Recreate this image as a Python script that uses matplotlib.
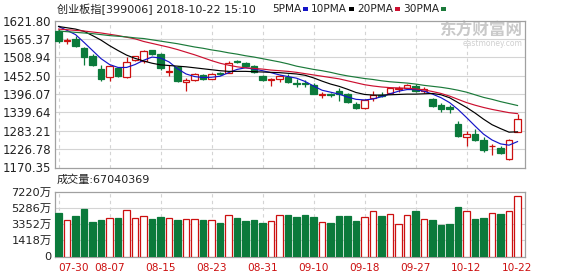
import matplotlib
matplotlib.use('Agg')
import matplotlib.pyplot as plt
from matplotlib.patches import Rectangle
import numpy as np

plt.rcParams['font.family'] = ['DejaVu Sans', 'Noto Sans CJK SC']

# ---------------- data ----------------
dates = ['07-30', '07-31', '08-01', '08-02', '08-03', '08-06', '08-07', '08-08', '08-09', '08-10',
         '08-13', '08-14', '08-15', '08-16', '08-17', '08-20', '08-21', '08-22', '08-23', '08-24',
         '08-27', '08-28', '08-29', '08-30', '08-31', '09-03', '09-04', '09-05', '09-06', '09-07',
         '09-10', '09-11', '09-12', '09-13', '09-14', '09-17', '09-18', '09-19', '09-20', '09-21',
         '09-25', '09-26', '09-27', '09-28', '10-08', '10-09', '10-10', '10-11', '10-12', '10-15',
         '10-16', '10-17', '10-18', '10-19', '10-22']

opens = [1589, 1559, 1567, 1537, 1514, 1472, 1449, 1475, 1448, 1500,
         1497, 1531, 1518, 1463, 1479, 1433, 1439, 1456, 1444, 1460,
         1462, 1497, 1492, 1482, 1453, 1438, 1443, 1449, 1429, 1429,
         1425, 1394, 1396, 1405, 1395, 1367, 1352, 1385, 1394, 1398,
         1413, 1414, 1421, 1407, 1382, 1362, 1355, 1304, 1263, 1273,
         1256, 1235, 1229, 1196, 1278]
highs = [1597, 1569, 1574, 1542, 1520, 1487, 1487, 1477, 1510, 1514,
         1533, 1533, 1523, 1487, 1484, 1446, 1460, 1459, 1462, 1465,
         1497, 1502, 1494, 1485, 1455, 1446, 1456, 1457, 1441, 1438,
         1431, 1403, 1400, 1416, 1398, 1373, 1380, 1405, 1401, 1416,
         1421, 1428, 1428, 1418, 1385, 1370, 1362, 1314, 1283, 1288,
         1263, 1242, 1237, 1258, 1334]
lows = [1553, 1551, 1541, 1486, 1481, 1436, 1436, 1448, 1446, 1497,
        1492, 1515, 1470, 1453, 1433, 1406, 1436, 1440, 1441, 1455,
        1460, 1492, 1480, 1460, 1437, 1420, 1433, 1430, 1418, 1418,
        1395, 1385, 1386, 1375, 1370, 1350, 1349, 1375, 1386, 1395,
        1401, 1412, 1403, 1400, 1355, 1340, 1337, 1263, 1235, 1252,
        1217, 1209, 1212, 1193, 1278]
closes = [1558, 1563, 1543, 1511, 1485, 1441, 1481, 1451, 1495, 1512,
          1529, 1518, 1477, 1466, 1437, 1438, 1457, 1443, 1457, 1458,
          1492, 1495, 1482, 1465, 1439, 1443, 1453, 1434, 1427, 1427,
          1396, 1396, 1394, 1395, 1373, 1354, 1377, 1392, 1391, 1414,
          1416, 1424, 1407, 1411, 1358, 1349, 1349, 1268, 1273, 1256,
          1225, 1238, 1215, 1256, 1319]

ma5 = [1604, 1592, 1579, 1555, 1530, 1505, 1487, 1478, 1478, 1487,
       1500, 1510, 1507, 1495, 1474, 1458, 1450, 1447, 1448, 1451,
       1462, 1472, 1477, 1473, 1468, 1462, 1455, 1450, 1445, 1435,
       1421, 1408, 1402, 1396, 1387, 1380, 1378, 1381, 1388, 1397,
       1405, 1410, 1410, 1405, 1396, 1385, 1370, 1349, 1324, 1298,
       1273, 1255, 1243, 1239, 1250]
ma10 = [1604, 1600, 1596, 1589, 1576, 1562, 1545, 1530, 1516, 1506,
        1498, 1491, 1486, 1484, 1482, 1480, 1477, 1474, 1471, 1468,
        1466, 1466, 1466, 1465, 1464, 1463, 1462, 1460, 1458, 1454,
        1446, 1436, 1427, 1420, 1411, 1401, 1395, 1393, 1393, 1394,
        1395, 1396, 1396, 1397, 1398, 1394, 1385, 1370, 1355, 1338,
        1319, 1302, 1290, 1279, 1280]
ma20 = [1596, 1594, 1592, 1590, 1587, 1584, 1580, 1576, 1571, 1566,
        1558, 1552, 1546, 1540, 1533, 1525, 1517, 1508, 1499, 1491,
        1485, 1480, 1477, 1475, 1473, 1470, 1468, 1466, 1463, 1459,
        1455, 1451, 1447, 1443, 1437, 1431, 1425, 1421, 1418, 1416,
        1415, 1414, 1412, 1409, 1404, 1398, 1390, 1380, 1370, 1362,
        1355, 1349, 1344, 1339, 1336]
ma30 = [1590, 1588, 1586, 1584, 1582, 1579, 1576, 1574, 1572, 1569,
        1567, 1563, 1559, 1555, 1551, 1546, 1541, 1537, 1532, 1528,
        1523, 1519, 1514, 1510, 1505, 1500, 1495, 1489, 1482, 1477,
        1472, 1468, 1463, 1457, 1452, 1448, 1444, 1441, 1437, 1434,
        1432, 1430, 1427, 1423, 1420, 1417, 1413, 1408, 1402, 1394,
        1386, 1380, 1373, 1367, 1361]

volume = [4697, 3815, 4296, 5138, 3615, 3815, 4056, 4056, 5018, 4056,
          4296, 3935, 4176, 4056, 3815, 3935, 3935, 3815, 3815, 3454,
          4416, 4056, 3735, 3815, 3454, 3695, 4416, 4416, 4216, 4416,
          4136, 3615, 3494, 4296, 4296, 3695, 4136, 4898, 4296, 4497,
          3294, 4376, 4898, 3895, 3815, 3214, 3334, 5339, 4898, 3895,
          4016, 4617, 4537, 4898, 6704]

price_ticks = [1170.35, 1226.78, 1283.21, 1339.64, 1396.07, 1452.50, 1508.94, 1565.37, 1621.80]
vol_ticks = [0, 1418, 3352, 5286, 7220]
xtick_idx = [0, 6, 12, 18, 24, 30, 36, 42, 48, 54]

title = '创业板指[399006] 2018-10-22 15:10'
ma_names = ['5PMA', '10PMA', '20PMA', '30PMA']
last_volume_text = '成交量:67040369'

# ---------------- style ----------------
RED = '#cc1010'
GREEN = '#0b7a3b'
MA_COLORS = ['#1414c8', '#000000', '#cc1030', '#1b7a3a']
GRID = '#d4d4d4'
SPINE = '#a0a0a0'

W, H = 578, 276
fig = plt.figure(figsize=(W / 100, H / 100), dpi=100)
fig.patch.set_facecolor('white')

def fx(px):
    return px / W

def fy(py):
    return 1 - py / H

ax = fig.add_axes([fx(55), fy(167.5), fx(470), (167.5 - 20.7) / H])
axv = fig.add_axes([fx(55), fy(256.5), fx(470), (256.5 - 191.5) / H])

n = len(dates)
x = np.arange(n)
for a in (ax, axv):
    a.set_xlim(-0.42, 54.88)
    for s in a.spines.values():
        s.set_color(SPINE)
        s.set_linewidth(0.9)
    a.tick_params(length=0, pad=2.5)
    for xi in xtick_idx[:-1]:
        a.axvline(xi, color=GRID, lw=0.8, ls=(0, (3, 3)), zorder=0)

# price panel
ax.set_ylim(price_ticks[0], price_ticks[-1])
ax.set_yticks(price_ticks)
ax.set_yticklabels(['%.2f' % v for v in price_ticks], fontsize=8.5, color='#222222')
for v in price_ticks[1:-1]:
    ax.axhline(v, color=GRID, lw=0.8, zorder=0)
ax.set_xticks([])

bw = 0.74
for i in range(n):
    o, h, l, c = opens[i], highs[i], lows[i], closes[i]
    up = c >= o
    col = RED if up else GREEN
    ax.vlines(i, l, h, color=col, lw=0.9, zorder=2)
    lo, hi = min(o, c), max(o, c)
    if hi - lo < 2:
        ax.hlines((o + c) / 2, i - bw / 2, i + bw / 2, color=col, lw=1.1, zorder=3)
    else:
        ax.add_patch(Rectangle((i - bw / 2, lo), bw, hi - lo,
                               facecolor='white' if up else col, edgecolor=col,
                               lw=0.9, zorder=3))

for ma, colr in zip([ma5, ma10, ma20, ma30], MA_COLORS):
    ax.plot(x, ma, color=colr, lw=0.85, zorder=4)

# watermark
ax.text(0.995, 0.93, '东方财富网', transform=ax.transAxes, ha='right', va='center',
        fontsize=12, color='#c9c9c9', family=['Noto Sans CJK SC'], fontweight='bold', zorder=1)
ax.text(0.995, 0.845, 'eastmoney.com', transform=ax.transAxes, ha='right', va='center',
        fontsize=5.5, color='#cfcfcf', zorder=1)

# volume panel
vmin = 2 * vol_ticks[1] - vol_ticks[2]
axv.set_ylim(vmin, vol_ticks[-1])
vt_pos = [vmin] + vol_ticks[1:]
axv.set_yticks(vt_pos)
axv.set_yticklabels(['0'] + ['%d万' % v for v in vol_ticks[1:]], fontsize=8.2, color='#222222')
for v in vt_pos[1:-1]:
    axv.axhline(v, color=GRID, lw=0.8, zorder=0)

vol_arr = np.array(volume, dtype=float)
up_mask = np.array(closes) >= np.array(opens)
axv.bar(x[up_mask], vol_arr[up_mask] - vmin, bottom=vmin, width=bw,
        facecolor='white', edgecolor=RED, lw=0.9, zorder=3)
axv.bar(x[~up_mask], vol_arr[~up_mask] - vmin, bottom=vmin, width=bw,
        facecolor=GREEN, edgecolor=GREEN, lw=0.9, zorder=3)

axv.set_xticks(xtick_idx)
axv.set_xticklabels([dates[i] for i in xtick_idx], fontsize=7.6, color=RED)
axv.tick_params(axis='x', pad=5)
lbls = axv.get_xticklabels()
lbls[0].set_horizontalalignment('left')

# header texts
fig.text(fx(57), fy(9), title, fontsize=8, color='#222222', va='center', ha='left')
fig.text(fx(57), fy(180), last_volume_text, fontsize=8, color='#222222', va='center', ha='left')

# MA legend
fig.canvas.draw()
r = fig.canvas.get_renderer()
xpos = 272
for name, colr in zip(ma_names, MA_COLORS):
    t = fig.text(fx(xpos), fy(9), name, fontsize=7.6, color='#222222', va='center', ha='left')
    bb = t.get_window_extent(renderer=r)
    xe = bb.x1
    fig.patches.append(Rectangle((fx(xe + 2), fy(10.5)), fx(5), 3 / H, transform=fig.transFigure,
                                 facecolor=colr, edgecolor='none'))
    xpos = xe + 10

fig.savefig('out.png', dpi=100, facecolor='white')
